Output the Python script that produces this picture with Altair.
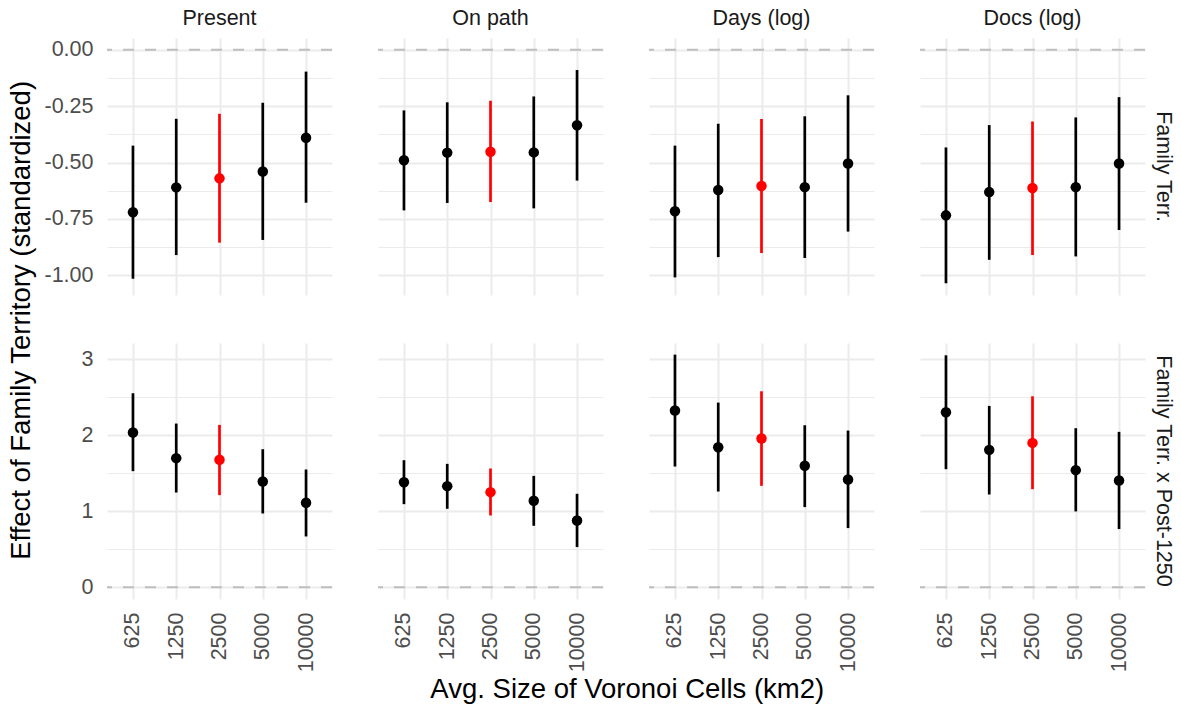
import altair as alt
import pandas as pd

sizes = ["625", "1250", "2500", "5000", "10000"]
metrics = ["Present", "On path", "Days (log)", "Docs (log)"]
terms = ["Family Terr.", "Family Terr. x Post-1250"]

# Row 1: Family Terr.
present_est = [-0.72, -0.61, -0.57, -0.54, -0.39]
present_lo = [-1.015, -0.91, -0.855, -0.843, -0.678]
present_hi = [-0.425, -0.306, -0.284, -0.235, -0.097]
onpath_est = [-0.49, -0.456, -0.452, -0.455, -0.335]
onpath_lo = [-0.712, -0.679, -0.675, -0.703, -0.58]
onpath_hi = [-0.269, -0.233, -0.226, -0.207, -0.09]
days_est = [-0.716, -0.622, -0.604, -0.609, -0.504]
days_lo = [-1.009, -0.919, -0.901, -0.923, -0.806]
days_hi = [-0.425, -0.328, -0.307, -0.295, -0.202]
docs_est = [-0.734, -0.631, -0.613, -0.609, -0.504]
docs_lo = [-1.035, -0.931, -0.91, -0.916, -0.799]
docs_hi = [-0.433, -0.334, -0.318, -0.30, -0.21]

# Row 2: Family Terr. x Post-1250
present2_est = [2.037, 1.70, 1.678, 1.393, 1.113]
present2_lo = [1.529, 1.248, 1.213, 0.972, 0.670]
present2_hi = [2.554, 2.155, 2.138, 1.818, 1.551]
onpath2_est = [1.384, 1.332, 1.253, 1.139, 0.880]
onpath2_lo = [1.095, 1.034, 0.946, 0.810, 0.530]
onpath2_hi = [1.673, 1.625, 1.564, 1.467, 1.231]
days2_est = [2.326, 1.844, 1.958, 1.599, 1.419]
days2_lo = [1.590, 1.261, 1.336, 1.056, 0.780]
days2_hi = [3.062, 2.431, 2.580, 2.133, 2.063]
docs2_est = [2.304, 1.809, 1.901, 1.542, 1.406]
docs2_lo = [1.555, 1.222, 1.292, 0.999, 0.767]
docs2_hi = [3.053, 2.387, 2.514, 2.094, 2.046]

highlight = "2500"

blocks = {
    terms[0]: {
        "Present": (present_est, present_lo, present_hi),
        "On path": (onpath_est, onpath_lo, onpath_hi),
        "Days (log)": (days_est, days_lo, days_hi),
        "Docs (log)": (docs_est, docs_lo, docs_hi),
    },
    terms[1]: {
        "Present": (present2_est, present2_lo, present2_hi),
        "On path": (onpath2_est, onpath2_lo, onpath2_hi),
        "Days (log)": (days2_est, days2_lo, days2_hi),
        "Docs (log)": (docs2_est, docs2_lo, docs2_hi),
    },
}

rows = []
for term in terms:
    for m in metrics:
        est, lo, hi = blocks[term][m]
        for s, e, l, h in zip(sizes, est, lo, hi):
            rows.append({"term": term, "metric": m, "size": s, "est": e, "lo": l, "hi": h,
                         "col": "red" if s == highlight else "black"})
df = pd.DataFrame(rows)

FONT = "Liberation Sans"
GRID = "#EBEBEB"
TICK_FS = 21.5
TITLE_FS = 27.5


def row_chart(term, domain, values, major_test, label_expr, is_top, height):
    d = df[df["term"] == term]
    if is_top:
        xaxis = alt.Axis(labels=False, ticks=False, domain=False, title=None,
                         grid=True, gridColor=GRID, gridWidth=2)
    else:
        xaxis = alt.Axis(labelAngle=270, labelFontSize=TICK_FS, labelColor="#4D4D4D",
                         labelFont=FONT, labelPadding=13, ticks=False, domain=False,
                         title=None, grid=True, gridColor=GRID, gridWidth=2)
    x = alt.X("size:N", sort=sizes, scale=alt.Scale(type="point", padding=0.6), axis=xaxis)
    yaxis = alt.Axis(values=values, labelExpr=label_expr, title=None, grid=True,
                     gridColor=GRID,
                     gridWidth={"condition": {"test": major_test, "value": 2}, "value": 1},
                     labelFontSize=TICK_FS, labelColor="#4D4D4D", labelFont=FONT,
                     labelPadding=13, ticks=False, domain=False)
    yscale = alt.Scale(domain=domain, nice=False, zero=False)

    zero = alt.Chart().transform_aggregate(
        n="count()", groupby=["metric", "term"]
    ).mark_rule(color="#BEBEBE", strokeWidth=2, strokeDash=[11, 11]).encode(
        y=alt.datum(0, scale=yscale, axis=yaxis)
    )
    bars = alt.Chart().mark_rule(strokeWidth=2.7).encode(
        x=x,
        y=alt.Y("lo:Q", scale=yscale, axis=yaxis),
        y2="hi:Q",
        color=alt.Color("col:N", scale=None),
    )
    pts = alt.Chart().mark_circle(size=110, opacity=1).encode(
        x=x,
        y=alt.Y("est:Q", scale=yscale, axis=yaxis),
        color=alt.Color("col:N", scale=None),
    )
    if is_top:
        colheader = alt.Header(title=None, labelFontSize=TICK_FS, labelColor="#1A1A1A",
                               labelFont=FONT, labelPadding=9)
    else:
        colheader = alt.Header(title=None, labels=False)
    rowheader = alt.Header(title=None, labelOrient="right", labelAngle=90,
                           labelFontSize=TICK_FS, labelColor="#1A1A1A", labelFont=FONT,
                           labelPadding=6)
    return alt.layer(zero, bars, pts, data=d).properties(
        width=225, height=height
    ).facet(
        column=alt.Column("metric:N", sort=metrics, header=colheader),
        row=alt.Row("term:N", header=rowheader),
        spacing=44,
    )


top_values = [-1.0, -0.875, -0.75, -0.625, -0.5, -0.375, -0.25, -0.125, 0.0]
top_test = "abs(datum.value*4 - round(datum.value*4)) < 0.001"
top_label = ("abs(datum.value*4 - round(datum.value*4)) < 0.001 ? "
             "replace(format(datum.value, '.2f'), '\u2212', '-') : ''")
bot_values = [0, 0.5, 1, 1.5, 2, 2.5, 3]
bot_test = "abs(datum.value - round(datum.value)) < 0.001"
bot_label = "abs(datum.value - round(datum.value)) < 0.001 ? format(datum.value, '.0f') : ''"

top = row_chart(terms[0], [-1.087, 0.052], top_values, top_test, top_label, True, 257)
bottom = row_chart(terms[1], [-0.153, 3.215], bot_values, bot_test, bot_label, False, 256).properties(
    title=alt.TitleParams("Avg. Size of Voronoi Cells (km2)", orient="bottom", anchor="middle",
                          fontSize=TITLE_FS, fontWeight="normal", font=FONT, color="black",
                          offset=4)
)

chart = alt.vconcat(top, bottom, spacing=48).properties(
    title=alt.TitleParams("Effect of Family Territory (standardized)", orient="left",
                          anchor="middle", fontSize=TITLE_FS, fontWeight="normal", font=FONT,
                          color="black", offset=8, dx=35),
    padding={"left": 8, "top": 7, "right": 2, "bottom": 0},
).configure_view(strokeWidth=0)

chart.save("out.html", embed_options={"renderer": "svg", "actions": False})
